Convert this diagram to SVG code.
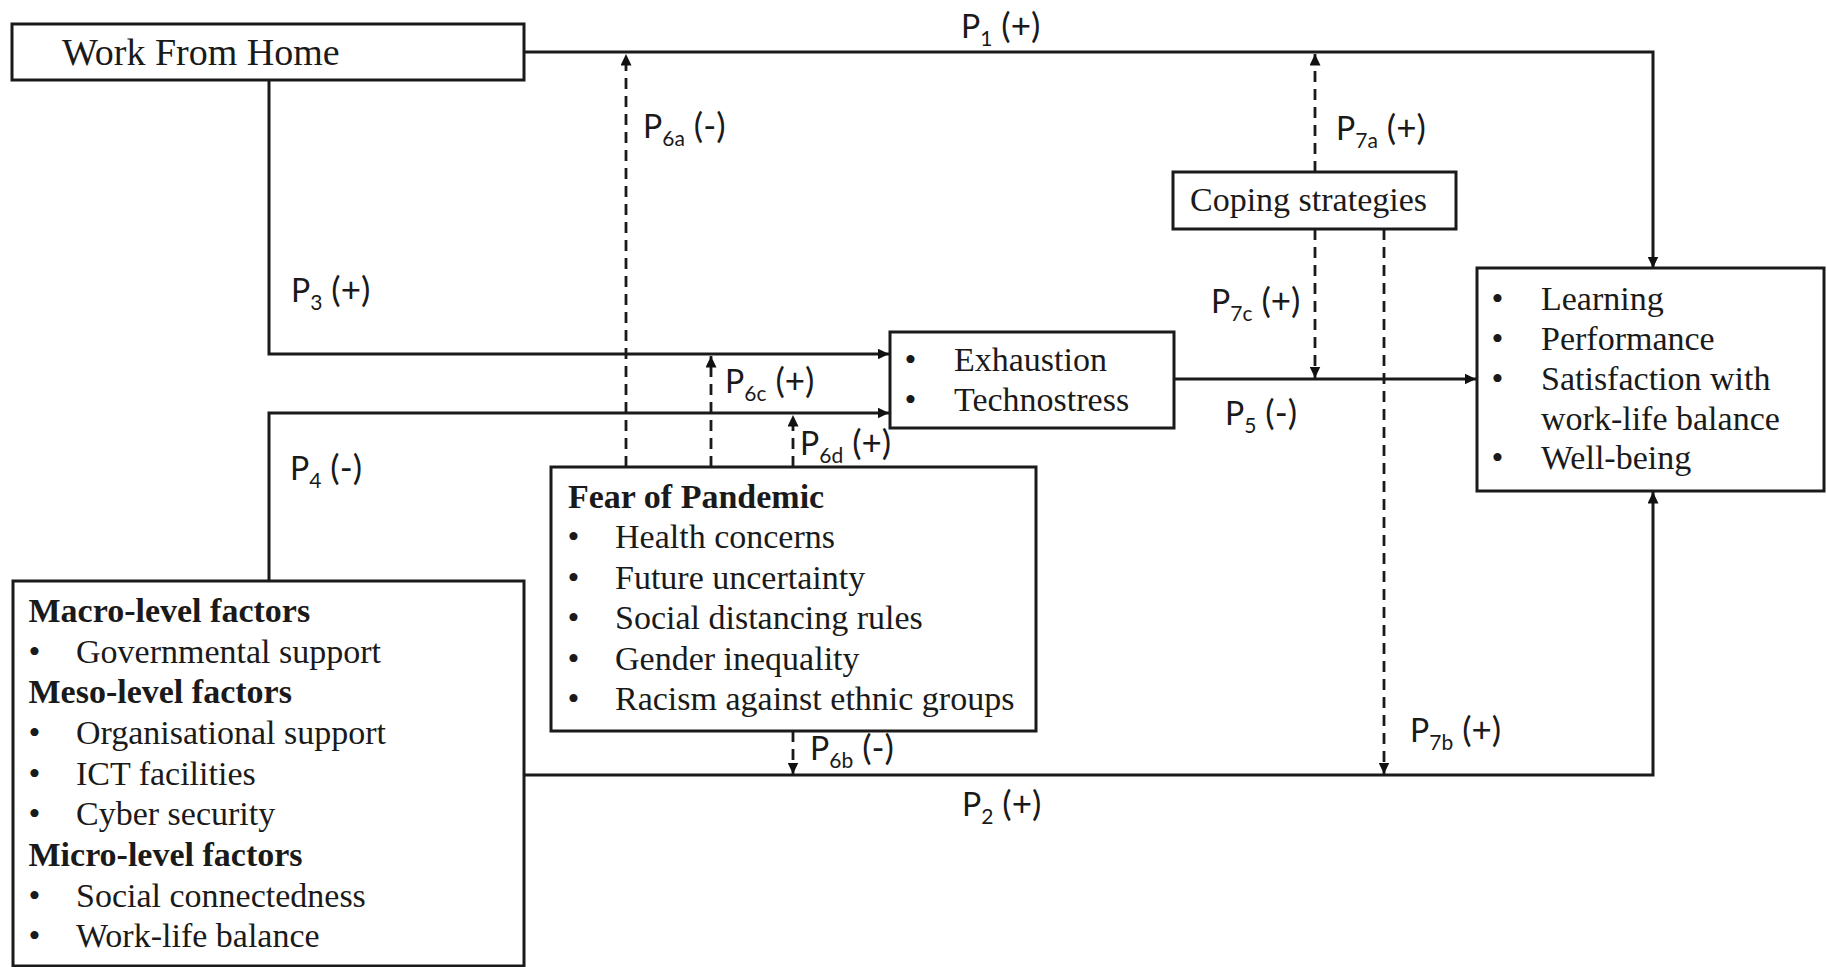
<svg xmlns="http://www.w3.org/2000/svg" width="1827" height="967" viewBox="0 0 1827 967">
<defs>
<marker id="arr" markerUnits="userSpaceOnUse" markerWidth="12" markerHeight="11" viewBox="0 0 12 11" refX="11.5" refY="5.5" orient="auto">
<path d="M0,0 L11.5,5.5 L0,11 Z" fill="#111"/>
</marker>
<style>
.box{fill:#fff;stroke:#1a1a1a;stroke-width:3}
.ln{fill:none;stroke:#1a1a1a;stroke-width:3;marker-end:url(#arr)}
.dash{fill:none;stroke:#1a1a1a;stroke-width:2.8;stroke-dasharray:11 7;marker-end:url(#arr)}
.t{font-family:"Liberation Serif","Times New Roman",serif;font-size:34px;fill:#1a1a1a}
.b{font-weight:bold}
.p{font-family:Lato,"Open Sans",sans-serif;font-size:32px;fill:#1a1a1a}
.s{font-size:21px}
.q{font-size:35px}
</style>
</defs>
<rect width="1827" height="967" fill="#fff"/>
<g id="connectors">
<path class="ln" d="M524,52 H1653 V268"/>
<path class="ln" d="M269,80 V354 H889"/>
<path class="ln" d="M269,581 V413 H889"/>
<path class="ln" d="M1174,379 H1476"/>
<path class="ln" d="M524,775 H1653 V492"/>
<path class="dash" d="M626,467 V54"/>
<path class="dash" d="M711,467 V356"/>
<path class="dash" d="M793,467 V415"/>
<path class="dash" d="M793,731 V774"/>
<path class="dash" d="M1315,172 V54"/>
<path class="dash" d="M1315,229 V378"/>
<path class="dash" d="M1384,229 V774"/>
</g>
<g id="labels">
<text class="p" x="961" y="38">P<tspan class="s" dy="8">1</tspan><tspan class="q" dy="-8"> (+)</tspan></text>
<text class="p" x="643" y="138">P<tspan class="s" dy="8">6a</tspan><tspan class="q" dy="-8"> (-)</tspan></text>
<text class="p" x="1336" y="140">P<tspan class="s" dy="8">7a</tspan><tspan class="q" dy="-8"> (+)</tspan></text>
<text class="p" x="291" y="302">P<tspan class="s" dy="8">3</tspan><tspan class="q" dy="-8"> (+)</tspan></text>
<text class="p" x="1211" y="313">P<tspan class="s" dy="8">7c</tspan><tspan class="q" dy="-8"> (+)</tspan></text>
<text class="p" x="725" y="393">P<tspan class="s" dy="8">6c</tspan><tspan class="q" dy="-8"> (+)</tspan></text>
<text class="p" x="1225" y="425">P<tspan class="s" dy="8">5</tspan><tspan class="q" dy="-8"> (-)</tspan></text>
<text class="p" x="800" y="455">P<tspan class="s" dy="8">6d</tspan><tspan class="q" dy="-8"> (+)</tspan></text>
<text class="p" x="290" y="480">P<tspan class="s" dy="8">4</tspan><tspan class="q" dy="-8"> (-)</tspan></text>
<text class="p" x="1410" y="742">P<tspan class="s" dy="8">7b</tspan><tspan class="q" dy="-8"> (+)</tspan></text>
<text class="p" x="810" y="760">P<tspan class="s" dy="8">6b</tspan><tspan class="q" dy="-8"> (-)</tspan></text>
<text class="p" x="962" y="816">P<tspan class="s" dy="8">2</tspan><tspan class="q" dy="-8"> (+)</tspan></text>
</g>
<g id="work-from-home">
<rect class="box" x="12" y="24" width="512" height="56"/>
<text class="t" x="62" y="65" style="font-size:38px">Work From Home</text>
</g>
<g id="coping-strategies">
<rect class="box" x="1173" y="172" width="283" height="57"/>
<text class="t" x="1190" y="211">Coping strategies</text>
</g>
<g id="exhaustion">
<rect class="box" x="890" y="332" width="284" height="96"/>
<text class="t" x="904.5" y="370.5">•</text><text class="t" x="954" y="370.5">Exhaustion</text>
<text class="t" x="904.5" y="410.5">•</text><text class="t" x="954" y="410.5">Technostress</text>
</g>
<g id="outcomes">
<rect class="box" x="1477" y="268" width="347" height="223"/>
<text class="t" x="1491.5" y="310">•</text><text class="t" x="1541" y="310">Learning</text>
<text class="t" x="1491.5" y="349.5">•</text><text class="t" x="1541" y="349.5">Performance</text>
<text class="t" x="1491.5" y="389.5">•</text><text class="t" x="1541" y="389.5">Satisfaction with</text>
<text class="t" x="1541" y="429.5">work-life balance</text>
<text class="t" x="1491.5" y="468.5">•</text><text class="t" x="1541" y="468.5">Well-being</text>
</g>
<g id="fear-of-pandemic">
<rect class="box" x="551" y="467" width="485" height="264"/>
<text class="t b" x="568" y="508">Fear of Pandemic</text>
<text class="t" x="567.6" y="548">•</text><text class="t" x="615" y="548">Health concerns</text>
<text class="t" x="567.6" y="588.5">•</text><text class="t" x="615" y="588.5">Future uncertainty</text>
<text class="t" x="567.6" y="629">•</text><text class="t" x="615" y="629">Social distancing rules</text>
<text class="t" x="567.6" y="669.5">•</text><text class="t" x="615" y="669.5">Gender inequality</text>
<text class="t" x="567.6" y="710">•</text><text class="t" x="615" y="710">Racism against ethnic groups</text>
</g>
<g id="factors">
<rect class="box" x="13" y="581" width="511" height="385"/>
<text class="t b" x="28.5" y="621.5">Macro-level factors</text>
<text class="t" x="28.4" y="662.5">•</text><text class="t" x="76" y="662.5">Governmental support</text>
<text class="t b" x="28.5" y="703">Meso-level factors</text>
<text class="t" x="28.4" y="744">•</text><text class="t" x="76" y="744">Organisational support</text>
<text class="t" x="28.4" y="784.5">•</text><text class="t" x="76" y="784.5">ICT facilities</text>
<text class="t" x="28.4" y="825">•</text><text class="t" x="76" y="825">Cyber security</text>
<text class="t b" x="28.5" y="866">Micro-level factors</text>
<text class="t" x="28.4" y="906.5">•</text><text class="t" x="76" y="906.5">Social connectedness</text>
<text class="t" x="28.4" y="947">•</text><text class="t" x="76" y="947">Work-life balance</text>
</g>
</svg>
